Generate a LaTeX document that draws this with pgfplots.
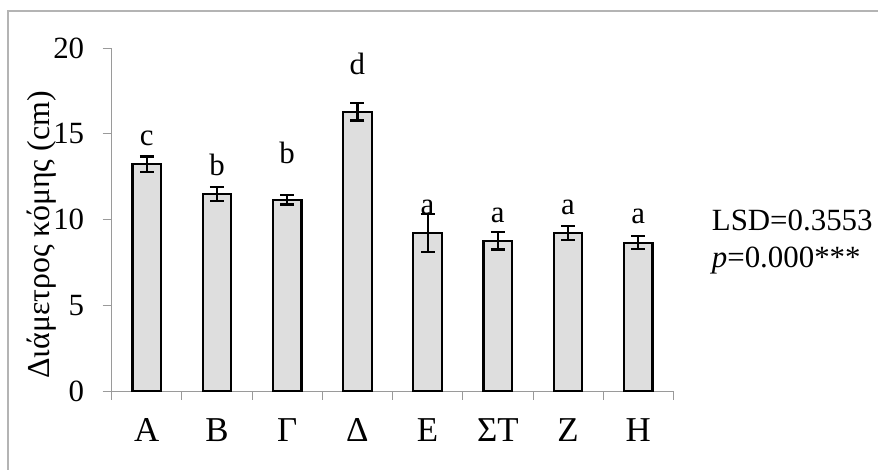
\documentclass[border=0pt]{standalone}
\usepackage{fontspec}
\setmainfont{Liberation Serif}
\usepackage{pgfplots}
\pgfplotsset{compat=1.18}
\definecolor{barfill}{HTML}{DEDEDE}
\definecolor{axisgray}{HTML}{9A9A9A}
\definecolor{framegray}{HTML}{B4B4B4}

\pgfplotstableread{
x   y      e
0   13.22  0.45
1   11.49  0.40
2   11.14  0.27
3   16.29  0.52
4   9.21   1.12
5   8.75   0.50
6   9.21   0.40
7   8.65   0.37
}\diamdata

\begin{document}
\begin{tikzpicture}[x=1bp,y=1bp]
\path[use as bounding box] (-111.7,-79) rectangle (766.3,391);
\draw[framegray, line width=1.2bp] (-103.7,-79) -- (-103.7,380) -- (766.3,380);
\begin{axis}[
  at={(0,0)}, anchor=south west,
  scale only axis, width=561.6bp, height=343bp,
  xmin=-0.5, xmax=7.5, ymin=0, ymax=20,
  axis lines*=left,
  axis line style={axisgray, line width=0.8bp, -},
  tick align=outside, major tick length=9bp,
  ytick={0,5,10,15,20},
  ytick style={axisgray, line width=0.8bp},
  xtick={0,...,7},
  xticklabels={Α,Β,Γ,Δ,Ε,ΣΤ,Ζ,Η},
  major x tick style={draw=none},
  extra x ticks={-0.5,0.5,...,7.5},
  extra x tick labels={},
  extra x tick style={major x tick style={draw=axisgray, line width=0.8bp}},
  /pgf/number format/assume math mode=true,
  yticklabel style={font=\fontsize{31}{37}\selectfont, xshift=-15bp},
  xticklabel style={font=\fontsize{35}{42}\selectfont, yshift=-15bp},
  clip=false,
]
\addplot[ybar, bar width=28.5bp, fill=barfill, draw=black, line width=2.2bp,
  error bars/.cd, y dir=both, y explicit,
  error bar style={line width=2.2bp, black},
  error mark options={rotate=90, mark size=7bp, line width=2.2bp, black}]
  table[x=x, y=y, y error=e] {\diamdata};
\begin{scope}[every node/.style={anchor=base, inner sep=0pt, font=\fontsize{31}{37}\selectfont}]
\node at (axis cs:0,14.34) {c};
\node at (axis cs:1,12.55) {b};
\node at (axis cs:2,13.27) {b};
\node at (axis cs:3,18.43) {d};
\node at (axis cs:4,10.32) {a};
\node at (axis cs:5,9.84) {a};
\node at (axis cs:6,10.32) {a};
\node at (axis cs:7,9.78) {a};
\end{scope}
\end{axis}
\node[rotate=90, anchor=base, inner sep=0pt, font=\fontsize{32}{38}\selectfont] at (-61.7,156) {Διάμετρος κόμης (cm)};
\node[anchor=base west, inner sep=0pt, font=\fontsize{31}{37}\selectfont] at (600,160) {LSD=0.3553};
\node[anchor=base west, inner sep=0pt, font=\fontsize{31}{37}\selectfont] at (600,123.7) {\textit{p}=0.000***};
\end{tikzpicture}
\end{document}
